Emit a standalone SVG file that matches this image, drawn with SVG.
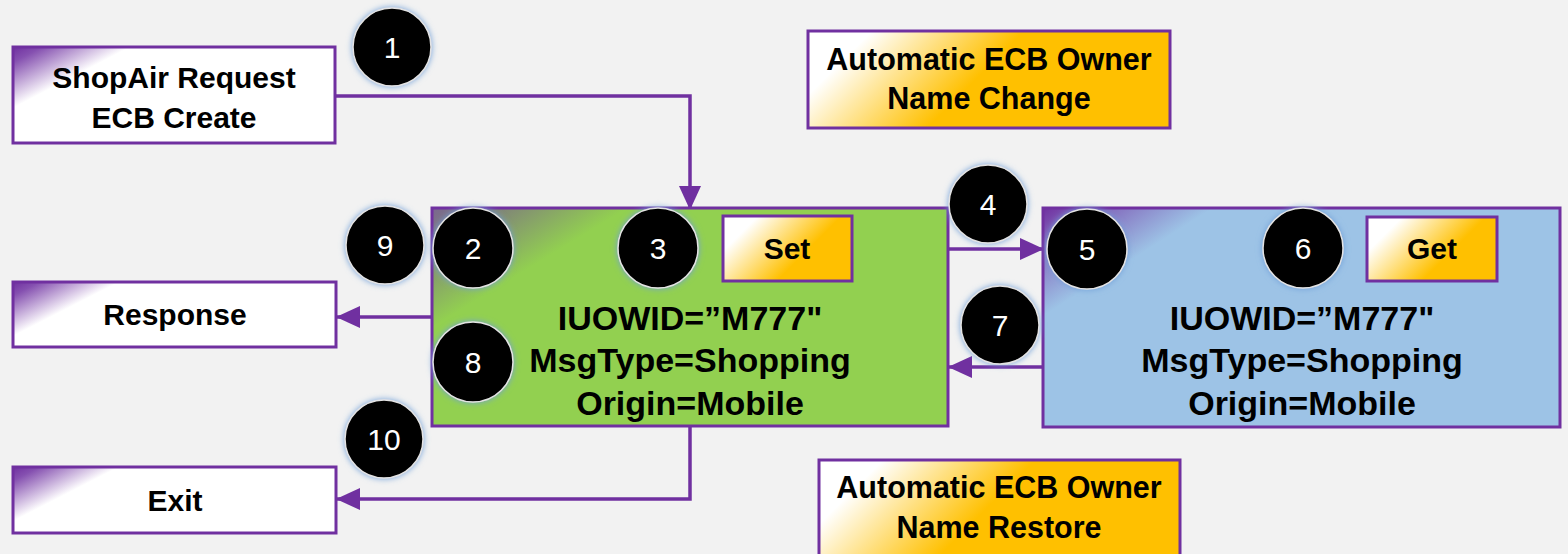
<svg xmlns="http://www.w3.org/2000/svg" width="1568" height="554" viewBox="0 0 1568 554">
<style>
.bg{fill:#F2F2F2}
.box{stroke:#7030A0;stroke-width:3}
.lbl{font-family:"Liberation Sans",Arial,sans-serif;font-weight:bold;fill:#000;text-anchor:middle}
.num{font-family:"Liberation Sans",Arial,sans-serif;font-size:30px;fill:#fff;text-anchor:middle}
.dot{fill:#000;stroke:#e3e3e3;stroke-width:1.5;filter:url(#glow)}
.con{fill:none;stroke:#7030A0;stroke-width:3.5}
.arr{marker-end:url(#ah)}
</style>
<defs>
<linearGradient id="sWhite">
<stop offset="0" stop-color="#7030A0"/>
<stop offset="0.25" stop-color="#8550b0"/>
<stop offset="1" stop-color="#ffffff"/>
</linearGradient>
<linearGradient id="sGreen">
<stop offset="0" stop-color="#7a6690"/>
<stop offset="0.35" stop-color="#808478"/>
<stop offset="1" stop-color="#92D050"/>
</linearGradient>
<linearGradient id="sBlue">
<stop offset="0" stop-color="#7030A0"/>
<stop offset="0.3" stop-color="#8060b8"/>
<stop offset="1" stop-color="#9DC3E6"/>
</linearGradient>
<linearGradient id="sOrange">
<stop offset="0.16" stop-color="#ffffff"/>
<stop offset="0.54" stop-color="#FFC000"/>
<stop offset="1" stop-color="#FFC000"/>
</linearGradient>
<linearGradient id="gShop" href="#sWhite" gradientUnits="userSpaceOnUse" x1="13" y1="47" x2="38" y2="95"/>
<linearGradient id="gResp" href="#sWhite" gradientUnits="userSpaceOnUse" x1="13" y1="282" x2="35" y2="325"/>
<linearGradient id="gExit" href="#sWhite" gradientUnits="userSpaceOnUse" x1="13" y1="467" x2="35" y2="510"/>
<linearGradient id="gGreen" href="#sGreen" gradientUnits="userSpaceOnUse" x1="432" y1="208" x2="485" y2="295"/>
<linearGradient id="gBlue" href="#sBlue" gradientUnits="userSpaceOnUse" x1="1043" y1="208" x2="1092" y2="285"/>
<linearGradient id="gChange" href="#sOrange" gradientUnits="userSpaceOnUse" x1="808" y1="31" x2="1008" y2="231"/>
<linearGradient id="gRestore" href="#sOrange" gradientUnits="userSpaceOnUse" x1="819" y1="460" x2="1019" y2="660"/>
<linearGradient id="gSet" href="#sOrange" gradientUnits="userSpaceOnUse" x1="723" y1="216" x2="833" y2="326"/>
<linearGradient id="gGet" href="#sOrange" gradientUnits="userSpaceOnUse" x1="1367" y1="217" x2="1477" y2="327"/>
<filter id="glow" x="-30%" y="-30%" width="160%" height="160%">
<feGaussianBlur in="SourceAlpha" stdDeviation="3"/>
<feComponentTransfer><feFuncA type="linear" slope="0.35"/></feComponentTransfer>
<feFlood flood-color="#6f9fd8"/>
<feComposite operator="in" in2="SourceAlpha"/>
<feGaussianBlur stdDeviation="3"/>
<feMerge><feMergeNode/><feMergeNode in="SourceGraphic"/></feMerge>
</filter>
<marker id="ah" markerUnits="userSpaceOnUse" markerWidth="24" markerHeight="22" refX="23" refY="11" orient="auto">
<path d="M0,0 L24,11 L0,22 Z" fill="#7030A0"/>
</marker>
</defs>
<rect class="bg" x="0" y="0" width="1568" height="554"/>

<g id="connectors">
<path class="con arr" d="M335,96 H690 V209"/>
<path class="con arr" d="M948,249 H1043"/>
<path class="con arr" d="M1045,367 H949"/>
<path class="con arr" d="M432,317 H337"/>
<path class="con arr" d="M690,427 V499 H337"/>
</g>

<g id="shopair">
<rect class="box" x="13" y="47" width="322" height="96" fill="url(#gShop)"/>
<text class="lbl" x="174" y="88" font-size="30">ShopAir Request</text>
<text class="lbl" x="174" y="128" font-size="30">ECB Create</text>
</g>

<g id="owner-change">
<rect class="box" x="808" y="31" width="362" height="97" fill="url(#gChange)"/>
<text class="lbl" x="989" y="70" font-size="30.5">Automatic ECB Owner</text>
<text class="lbl" x="989" y="109" font-size="30.5">Name Change</text>
</g>

<g id="response">
<rect class="box" x="13" y="282" width="323" height="65" fill="url(#gResp)"/>
<text class="lbl" x="175" y="325" font-size="30">Response</text>
</g>

<g id="exit">
<rect class="box" x="13" y="467" width="323" height="66" fill="url(#gExit)"/>
<text class="lbl" x="175" y="511" font-size="30">Exit</text>
</g>

<g id="owner-restore">
<rect class="box" x="819" y="460" width="361" height="100" fill="url(#gRestore)"/>
<text class="lbl" x="999" y="498" font-size="30.5">Automatic ECB Owner</text>
<text class="lbl" x="999" y="538" font-size="30.5">Name Restore</text>
</g>

<g id="green-ecb">
<rect class="box" x="432" y="208" width="516" height="218" fill="url(#gGreen)"/>
<text class="lbl" x="690" y="330" font-size="34">IUOWID=”M777"</text>
<text class="lbl" x="690" y="372" font-size="34">MsgType=Shopping</text>
<text class="lbl" x="690" y="415" font-size="34">Origin=Mobile</text>
</g>

<g id="set">
<rect class="box" x="723" y="216" width="129" height="65" fill="url(#gSet)"/>
<text class="lbl" x="787" y="259" font-size="30">Set</text>
</g>

<g id="blue-ecb">
<rect class="box" x="1043" y="208" width="517" height="219" fill="url(#gBlue)"/>
<text class="lbl" x="1302" y="330" font-size="34">IUOWID=”M777"</text>
<text class="lbl" x="1302" y="372" font-size="34">MsgType=Shopping</text>
<text class="lbl" x="1302" y="415" font-size="34">Origin=Mobile</text>
</g>

<g id="get">
<rect class="box" x="1367" y="217" width="130" height="64" fill="url(#gGet)"/>
<text class="lbl" x="1432" y="259" font-size="30">Get</text>
</g>

<g id="step1"><circle class="dot" cx="392" cy="47" r="39"/><text class="num" x="392" y="58">1</text></g>
<g id="step2"><circle class="dot" cx="473" cy="248" r="40"/><text class="num" x="473" y="259">2</text></g>
<g id="step3"><circle class="dot" cx="658" cy="248" r="40"/><text class="num" x="658" y="259">3</text></g>
<g id="step4"><circle class="dot" cx="988" cy="204" r="39"/><text class="num" x="988" y="215">4</text></g>
<g id="step5"><circle class="dot" cx="1087" cy="249" r="40"/><text class="num" x="1087" y="260">5</text></g>
<g id="step6"><circle class="dot" cx="1303" cy="248" r="40"/><text class="num" x="1303" y="259">6</text></g>
<g id="step7"><circle class="dot" cx="1000" cy="325" r="39"/><text class="num" x="1000" y="336">7</text></g>
<g id="step8"><circle class="dot" cx="473" cy="362" r="40"/><text class="num" x="473" y="373">8</text></g>
<g id="step9"><circle class="dot" cx="385" cy="245" r="39"/><text class="num" x="385" y="256">9</text></g>
<g id="step10"><circle class="dot" cx="384" cy="439" r="39"/><text class="num" x="384" y="450">10</text></g>
</svg>
